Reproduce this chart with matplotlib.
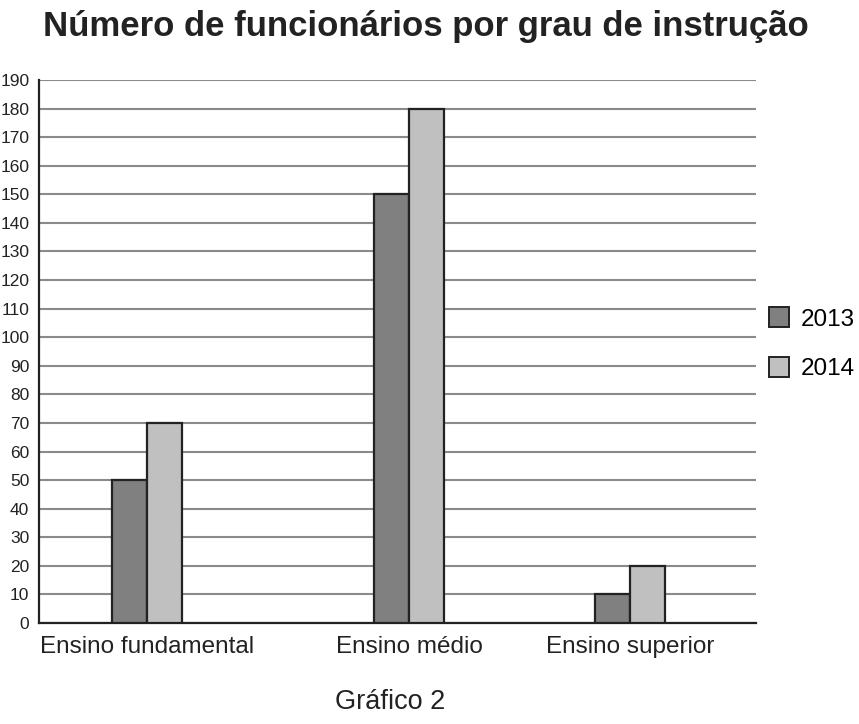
import numpy as np
import matplotlib.pyplot as plt
from matplotlib.patches import Patch

plt.rcParams['font.family'] = ['Liberation Sans', 'DejaVu Sans']

# data
categorias = ['Ensino fundamental', 'Ensino médio', 'Ensino superior']
anos = ['2013', '2014']
valores_2013 = [50, 150, 10]
valores_2014 = [70, 180, 20]

cor_2013 = '#808080'
cor_2014 = '#c0c0c0'

# group centres (the original spacing is uneven)
centros = np.array([1.08, 3.70, 5.91])
largura = 0.35

fig = plt.figure(figsize=(8.59, 7.24), dpi=100)
ax = fig.add_axes([0.0454, 0.1395, 0.8346, 0.75])

ax.bar(centros - largura / 2, valores_2013, largura, color=cor_2013,
       edgecolor='#222222', linewidth=1.6, zorder=3)
ax.bar(centros + largura / 2, valores_2014, largura, color=cor_2014,
       edgecolor='#222222', linewidth=1.6, zorder=3)

ax.set_xlim(0, 7.17)
ax.set_ylim(0, 190)
ax.set_yticks(range(0, 191, 10))
ax.yaxis.grid(True, color='#8a8a8a', linewidth=1.5, zorder=0)
ax.set_axisbelow(True)

ax.set_xticks(centros)
ax.set_xticklabels(categorias, fontsize=17.5, color='#222222')
ax.tick_params(axis='x', length=0, pad=9)
ax.tick_params(axis='y', length=0, pad=7, labelsize=12.5, labelcolor='#222222')

for s in ['top', 'right']:
    ax.spines[s].set_visible(False)
ax.spines['left'].set_color('#222222')
ax.spines['bottom'].set_color('#222222')
ax.spines['left'].set_linewidth(1.6)
ax.spines['bottom'].set_linewidth(1.6)

fig.text(0.496, 0.963, 'Número de funcionários por grau de instrução',
         ha='center', va='center', fontsize=25, fontweight='bold', color='#222222')
fig.text(0.454, 0.030, 'Gráfico 2', ha='center', va='center',
         fontsize=19.5, color='#222222')

handles = [Patch(facecolor=cor_2013, edgecolor='#222222', linewidth=1.4),
           Patch(facecolor=cor_2014, edgecolor='#222222', linewidth=1.4)]
fig.legend(handles, anos, loc='center left', bbox_to_anchor=(0.895, 0.525),
           frameon=False, fontsize=17.5, handlelength=0.85, handleheight=0.85,
           labelspacing=1.1, handletextpad=0.45, borderpad=0, borderaxespad=0)

fig.savefig('out.png', dpi=100)
